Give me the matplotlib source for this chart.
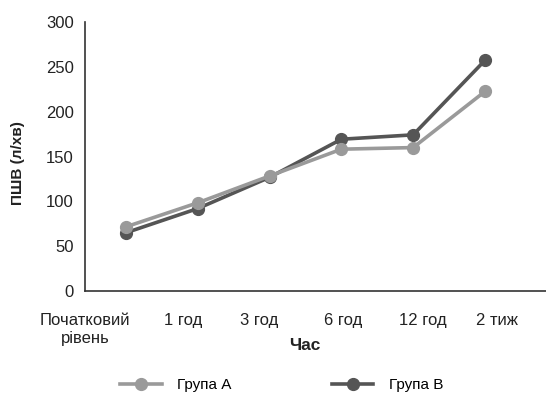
import numpy as np
import matplotlib.pyplot as plt

plt.rcParams['font.family'] = ['Liberation Sans', 'DejaVu Sans']

categories = ["Початковий\nрівень", "1 год", "3 год", "6 год", "12 год", "2 тиж"]
group_a = [71.6, 98.4, 128.3, 158.2, 160.0, 222.6]
group_b = [65.0, 92.0, 126.8, 169.3, 174.2, 257.3]

# the original chart puts its category labels on a wider grid than the points
label_pos = [-0.57, 0.79, 1.86, 3.02, 4.14, 5.17]

fig = plt.figure(figsize=(5.46, 3.94), dpi=100)
ax = fig.add_axes([0.1557, 0.2614, 0.8443, 0.6826])

x = np.arange(len(categories))
lb, = ax.plot(x, group_b, color="#555555", lw=2.6, marker="o", ms=8.5, label="Група B", zorder=2)
la, = ax.plot(x, group_a, color="#9a9a9a", lw=2.6, marker="o", ms=8.5, label="Група А", zorder=3)

ax.set_xlim(-0.56, 5.85)
ax.set_ylim(0, 300)
ax.set_yticks([0, 50, 100, 150, 200, 250, 300])
ax.set_xticks(label_pos)
ax.set_xticklabels(categories, linespacing=1.2)
ax.tick_params(axis="x", length=0, pad=16, labelsize=12, colors="#222222")
ax.tick_params(axis="y", length=0, pad=8, labelsize=12, colors="#222222")

for s in ["top", "right"]:
    ax.spines[s].set_visible(False)
for s in ["left", "bottom"]:
    ax.spines[s].set_color("#333333")
    ax.spines[s].set_linewidth(1.2)

ax.set_ylabel("ПШВ (л/хв)", fontsize=11, fontweight="bold", color="#222222")
ax.yaxis.set_label_coords(-0.13, 0.476)
ax.set_xlabel("Час", fontsize=12.5, fontweight="bold", color="#222222")
ax.xaxis.set_label_coords(0.477, -0.175)

fig.legend([la, lb], ["Група А", "Група B"], loc="center", bbox_to_anchor=(0.516, 0.023),
           ncol=2, frameon=False, fontsize=11, handlelength=2.7, handletextpad=1.0,
           columnspacing=6.6, markerscale=1.0)

plt.savefig("out.png", dpi=100)
